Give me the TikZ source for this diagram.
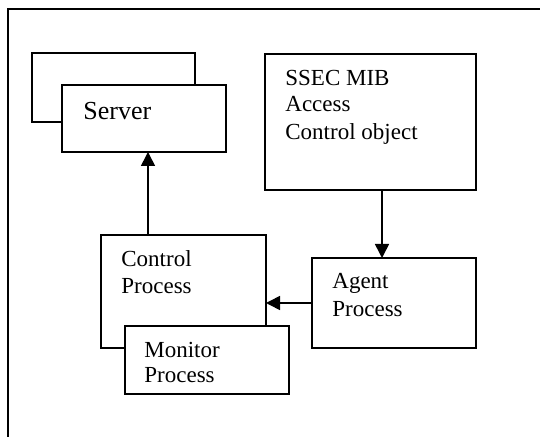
\documentclass[tikz,border=0pt]{standalone}
\usepackage{fontspec}
\setmainfont{Liberation Serif}
\usetikzlibrary{arrows.meta}
\begin{document}
\begin{tikzpicture}[x=0.5pt,y=-0.5pt,
  boxst/.style={draw,line width=0.8pt,fill=white,inner sep=0pt,outer sep=0pt,rectangle},
  txt/.style={anchor=base west,inner sep=0pt,font=\fontsize{11.5pt}{13pt}\selectfont},
  bigtxt/.style={anchor=base west,inner sep=0pt,font=\fontsize{13pt}{15pt}\selectfont},
  arr/.style={line width=0.8pt,-{Triangle[width=7pt,length=7pt]}},
  frame/.style={line width=1.1pt}]
\useasboundingbox (0,0) rectangle (540,437);
\draw[frame] (8,437) -- (8,9) -- (540,9);
% server stack
\node[boxst,minimum width=81.5pt,minimum height=34.5pt] (back) at (113.5,87.5) {};
\node[boxst,minimum width=82pt,minimum height=33.5pt] (srv) at (144,118.5) {};
\node[bigtxt] (srvt) at (83,120) {Server};
% SSEC
\node[boxst,minimum width=105.5pt,minimum height=68pt] (ssec) at (370.5,122) {};
\node[txt] (s1) at (285,86) {SSEC MIB};
\node[txt] (s2) at (285,112) {Access};
\node[txt] (s3) at (285,140) {Control object};
% control
\node[boxst,minimum width=82.5pt,minimum height=56.5pt] (ctrl) at (183.5,291.5) {};
\node[txt] (c1) at (121,267) {Control};
\node[txt] (c2) at (121,294) {Process};
% monitor
\node[boxst,minimum width=82pt,minimum height=34pt] (mon) at (207,360) {};
\node[txt] (m1) at (144,358) {Monitor};
\node[txt] (m2) at (144,383) {Process};
% agent
\node[boxst,minimum width=82pt,minimum height=45pt] (agent) at (394,303) {};
\node[txt] (a1) at (332,289) {Agent};
\node[txt] (a2) at (332,317) {Process};
% connectors
\draw[arr] ([xshift=23.5pt]ctrl.north west) -- ([xshift=23.5pt]ctrl.north west |- srv.south);
\draw[arr] ([xshift=35pt]agent.north west |- ssec.south) -- ([xshift=35pt]agent.north west);
\draw[arr] (agent.west) -- (agent.west -| ctrl.east);
\end{tikzpicture}
\end{document}
